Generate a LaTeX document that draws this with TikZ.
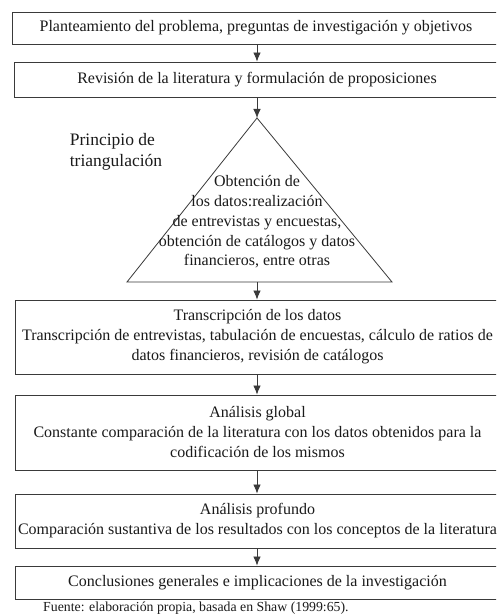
\documentclass[tikz,border=0pt]{standalone}
\usepackage{fontspec}
\setmainfont{Liberation Serif}
\usetikzlibrary{arrows.meta}
\definecolor{linegray}{HTML}{3A3A3A}
\definecolor{txt}{HTML}{1A1A1A}
\tikzset{
  box/.style={draw=linegray, line width=0.9pt, rectangle, align=center, inner sep=0pt, text=txt, font=\fontsize{16}{20}\selectfont},
  flow/.style={draw=linegray, line width=0.8pt, -{Latex[length=9pt,width=7.5pt]}},
  plain/.style={align=center, inner sep=0pt, text=txt, font=\fontsize{16}{19.8}\selectfont}
}
\begin{document}
\begin{tikzpicture}[x=1pt,y=-1pt]
\useasboundingbox (0,0) rectangle (496,615);
\clip (0,0) rectangle (496,615);
\fill[white] (0,0) rectangle (496,615);

\node[box, minimum width=488pt, minimum height=32pt] (b1) at (256,28) {Planteamiento del problema, preguntas de investigación y objetivos};
\node[box, minimum width=486pt, minimum height=35pt] (b2) at (257,79.5) {Revisión de la literatura y formulación de proposiciones};

\coordinate (apex) at (257,118);
\coordinate (tl) at (127,282);
\coordinate (tr) at (392,282);
\coordinate (tb) at (257,282);
\draw[linegray, line width=0.8pt] (apex) -- (tl) -- (tr) -- cycle;
\node[plain] (tri) at (257,222) {Obtención de\\los datos:realización\\de entrevistas y encuestas,\\obtención de catálogos y datos\\financieros, entre otras};
\node[plain, align=left, font=\fontsize{17.5}{21}\selectfont] (princ) at (116,152) {Principio de\\triangulación};

\node[box, minimum width=485pt, minimum height=74pt] (b3) at (257.5,337) {Transcripción de los datos\\Transcripción de entrevistas, tabulación de encuestas, cálculo de ratios de\\datos financieros, revisión de catálogos};
\node[box, minimum width=485pt, minimum height=75pt] (b4) at (257.5,432.5) {Análisis global\\Constante comparación de la literatura con los datos obtenidos para la\\codificación de los mismos};
\node[box, minimum width=485pt, minimum height=54pt] (b5) at (257.5,521) {Análisis profundo\\Comparación sustantiva de los resultados con los conceptos de la literatura};
\node[box, minimum width=485pt, minimum height=33pt] (b6) at (257.5,582.5) {Conclusiones generales e implicaciones de la investigación};

\node[plain, anchor=north west, font=\fontsize{13.8}{15}\selectfont] (src) at (43,601.5) {Fuente: elaboración propia, basada en Shaw (1999:65).};

\draw[flow] (b1.south -| apex) -- (b2.north -| apex);
\draw[flow] (b2.south -| apex) -- (apex);
\draw[flow] (tb) -- (b3.north -| tb);
\draw[flow] (b3.south -| tb) -- (b4.north -| tb);
\draw[flow] (b4.south -| tb) -- (b5.north -| tb);
\draw[flow] (b5.south -| tb) -- (b6.north -| tb);
\end{tikzpicture}
\end{document}
